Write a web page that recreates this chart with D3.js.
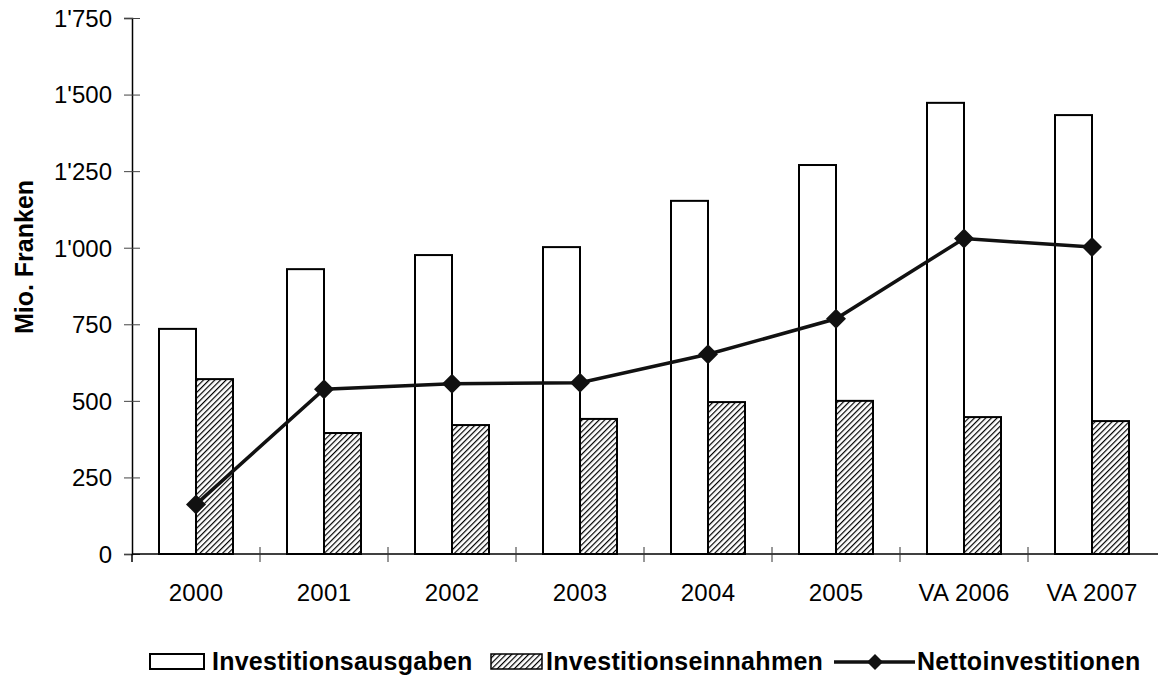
<!DOCTYPE html>
<html>
<head>
<meta charset="utf-8">
<script src="https://cdn.jsdelivr.net/npm/d3@7"></script>
<style>
  body { margin: 0; background: #fff; }
  text { font-family: Arial, "Liberation Sans", sans-serif; fill: #000; }
</style>
</head>
<body>
<div id="chart"></div>
<script>
// chart data
var years = ["2000", "2001", "2002", "2003", "2004", "2005", "VA 2006", "VA 2007"];
var ausgaben = [735, 930, 976, 1002, 1153, 1270, 1473, 1433];
var einnahmen = [571, 395, 421, 441, 496, 500, 447, 434];
var netto = [162, 538, 556, 559, 652, 768, 1030, 1002];
var yTicks = [0, 250, 500, 750, 1000, 1250, 1500, 1750];

var width = 1158, height = 677;

var svg = d3.select("#chart").append("svg")
    .attr("width", width)
    .attr("height", height);

// hatch pattern for the Einnahmen bars
var defs = svg.append("defs");
var pat = defs.append("pattern")
    .attr("id", "hatch")
    .attr("patternUnits", "userSpaceOnUse")
    .attr("width", 4)
    .attr("height", 4)
    .attr("patternTransform", "rotate(45)");
pat.append("rect").attr("width", 4).attr("height", 4).attr("fill", "#fff");
pat.append("line")
    .attr("x1", 0).attr("y1", 0).attr("x2", 0).attr("y2", 4)
    .attr("stroke", "#000").attr("stroke-width", 2.4);

// scales
var x = d3.scaleBand().domain(years).range([132, 1156]);
var y = d3.scaleLinear().domain([0, 1750]).range([554, 18]);

var swiss = d3.formatLocale({decimal: ".", thousands: "'", grouping: [3], currency: ["", ""]});
var fmt = swiss.format(",d");

var barW = 37;

// white bars
svg.selectAll(".bar-aus").data(ausgaben)
  .enter().append("rect")
    .attr("class", "bar-aus")
    .attr("x", function(d, i) { return x(years[i]) + x.bandwidth() / 2 - barW; })
    .attr("y", function(d) { return y(d); })
    .attr("width", barW)
    .attr("height", function(d) { return y(0) - y(d); })
    .attr("fill", "#fff")
    .attr("stroke", "#000")
    .attr("stroke-width", 2);

// hatched bars
svg.selectAll(".bar-ein").data(einnahmen)
  .enter().append("rect")
    .attr("class", "bar-ein")
    .attr("x", function(d, i) { return x(years[i]) + x.bandwidth() / 2; })
    .attr("y", function(d) { return y(d); })
    .attr("width", barW)
    .attr("height", function(d) { return y(0) - y(d); })
    .attr("fill", "url(#hatch)")
    .attr("stroke", "#000")
    .attr("stroke-width", 2);

// y axis
var yAxis = svg.append("g")
    .attr("transform", "translate(132,0)")
    .call(d3.axisLeft(y).tickValues(yTicks).tickFormat(fmt).tickSize(8).tickPadding(12))
    .attr("font-size", 24)
    .attr("font-family", "Arial, 'Liberation Sans', sans-serif");
yAxis.select(".domain").attr("stroke", "#000").attr("stroke-width", 1.5);
yAxis.selectAll(".tick line").attr("x1", 8).attr("stroke", "#444");
yAxis.selectAll(".tick text")
    .style("font-size", "24px")
    .attr("dy", "0.35em");

// x axis: labels at centres, ticks at category boundaries
var xAxis = svg.append("g")
    .attr("transform", "translate(0,554)")
    .call(d3.axisBottom(x).tickSize(0).tickPadding(30))
    .attr("font-size", 24)
    .attr("font-family", "Arial, 'Liberation Sans', sans-serif");
xAxis.select(".domain").remove();
xAxis.selectAll(".tick text")
    .style("font-size", "24px")
    .style("letter-spacing", "0.3px");
svg.append("line")
    .attr("x1", 132).attr("x2", width)
    .attr("y1", 554).attr("y2", 554)
    .attr("stroke", "#000").attr("stroke-width", 1.5);
svg.selectAll(".xtick").data(years.slice(1))
  .enter().append("line")
    .attr("class", "xtick")
    .attr("x1", function(d) { return x(d); })
    .attr("x2", function(d) { return x(d); })
    .attr("y1", 547).attr("y2", 562)
    .attr("stroke", "#333");
svg.append("line")
    .attr("x1", 132).attr("x2", 132).attr("y1", 554).attr("y2", 562)
    .attr("stroke", "#000").attr("stroke-width", 1.5);

// axis title
svg.append("text")
    .attr("transform", "translate(33,257) rotate(-90)")
    .attr("text-anchor", "middle")
    .style("font-size", "25px")
    .style("font-weight", "bold")
    .text("Mio. Franken");

// net line
var line = d3.line()
    .x(function(d, i) { return x(years[i]) + x.bandwidth() / 2; })
    .y(function(d) { return y(d); });
svg.append("path")
    .datum(netto)
    .attr("d", line)
    .attr("fill", "none")
    .attr("stroke", "#111")
    .attr("stroke-width", 3.5);

var diamond = "M0,-10L10,0L0,10L-10,0Z";
svg.selectAll(".pt").data(netto)
  .enter().append("path")
    .attr("class", "pt")
    .attr("d", diamond)
    .attr("transform", function(d, i) {
        return "translate(" + (x(years[i]) + x.bandwidth() / 2) + "," + y(d) + ")";
    })
    .attr("fill", "#111");

// legend
var leg = svg.append("g");
leg.append("rect").attr("x", 150).attr("y", 654).attr("width", 54).attr("height", 15)
    .attr("fill", "#fff").attr("stroke", "#000").attr("stroke-width", 2);
leg.append("text").attr("x", 212).attr("y", 670)
    .style("font-size", "25px").style("font-weight", "bold").style("letter-spacing", "0.25px")
    .text("Investitionsausgaben");
leg.append("rect").attr("x", 491).attr("y", 654).attr("width", 51).attr("height", 15)
    .attr("fill", "url(#hatch)").attr("stroke", "#000").attr("stroke-width", 1.5);
leg.append("text").attr("x", 546).attr("y", 670)
    .style("font-size", "25px").style("font-weight", "bold").style("letter-spacing", "0.3px")
    .text("Investitionseinnahmen");
leg.append("line").attr("x1", 834).attr("x2", 915).attr("y1", 662).attr("y2", 662)
    .attr("stroke", "#111").attr("stroke-width", 3.5);
leg.append("path").attr("d", "M0,-8L8,0L0,8L-8,0Z")
    .attr("transform", "translate(875,662)").attr("fill", "#111");
leg.append("text").attr("x", 917).attr("y", 670)
    .style("font-size", "25px").style("font-weight", "bold").style("letter-spacing", "0.3px")
    .text("Nettoinvestitionen");
</script>
</body>
</html>
